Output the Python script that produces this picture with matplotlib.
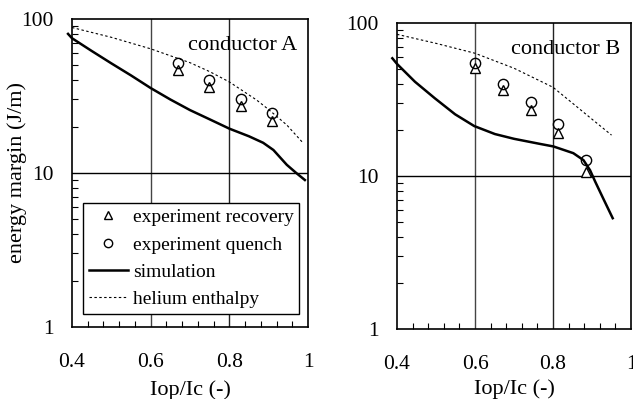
import matplotlib
matplotlib.use("Agg")
import matplotlib.pyplot as plt
from matplotlib.ticker import FixedLocator, FixedFormatter, NullFormatter
from matplotlib.lines import Line2D

plt.rcParams['font.family'] = ['Liberation Serif', 'DejaVu Serif']
plt.rcParams['mathtext.fontset'] = 'stix'

# ---- data: conductor A ----
xA_sim = [0.39, 0.4, 0.45, 0.5, 0.55, 0.6, 0.65, 0.7, 0.75, 0.8, 0.85, 0.886, 0.912, 0.946, 0.97, 0.992]
yA_sim = [80, 75, 62, 51.5, 43, 35.6, 30, 25.6, 22.3, 19.4, 17.3, 15.7, 14.1, 11.3, 10.0, 9.0]
xA_he = [0.4, 0.5, 0.6, 0.7, 0.75, 0.8, 0.869, 0.9, 0.946, 0.988]
yA_he = [88, 76, 64, 52, 45.5, 39, 29.8, 25.8, 20.5, 15.6]
xA_exp = [0.67, 0.748, 0.829, 0.909]
yA_quench = [51.6, 40.2, 30.2, 24.4]
yA_recov = [46.6, 36.3, 27.2, 21.9]

# ---- data: conductor B ----
xB_sim = [0.388, 0.4, 0.446, 0.497, 0.549, 0.598, 0.651, 0.7, 0.767, 0.801, 0.852, 0.878, 0.895, 0.908, 0.929, 0.953]
yB_sim = [58.8, 54, 41.3, 32.2, 25.3, 21.2, 18.8, 17.5, 16.2, 15.6, 14.1, 12.7, 10.9, 9.2, 7.1, 5.3]
xB_he = [0.4, 0.5, 0.6, 0.7, 0.8, 0.85, 0.9, 0.95]
yB_he = [84.3, 73.6, 63.4, 50.6, 38, 29.9, 23.5, 18.5]
xB_exp = [0.6, 0.672, 0.743, 0.813, 0.884]
yB_quench = [55.1, 39.9, 30.3, 21.9, 12.7]
yB_recov = [50.6, 36.5, 27, 19.2, 10.7]

xticks = [0.4, 0.6, 0.8, 1.0]
xticklabels = ["0.4", "0.6", "0.8", "1"]
yticks = [1, 10, 100]
yticklabels = ["1", "10", "100"]

fig = plt.figure(figsize=(6.33, 3.99), dpi=100)
axA = fig.add_axes([0.1137, 0.1805, 0.3729, 0.772])
axB = fig.add_axes([0.6272, 0.1754, 0.3697, 0.767])

FS_TICK = 15.5
FS_LAB = 16
FS_TITLE = 16
FS_LEG = 14

def style(ax, title):
    ax.set_yscale('log')
    ax.set_xlim(0.4, 1.0)
    ax.set_ylim(1, 100)
    ax.xaxis.set_major_locator(FixedLocator(xticks))
    ax.xaxis.set_major_formatter(FixedFormatter(xticklabels))
    ax.yaxis.set_major_locator(FixedLocator(yticks))
    ax.yaxis.set_major_formatter(FixedFormatter(yticklabels))
    xminor = [0.44, 0.48, 0.52, 0.56, 0.64, 0.68, 0.72, 0.76, 0.84, 0.88, 0.92, 0.96]
    ax.xaxis.set_minor_locator(FixedLocator(xminor))
    yminor = [m * d for d in (1, 10) for m in range(2, 10)]
    ax.yaxis.set_minor_locator(FixedLocator(yminor))
    ax.xaxis.set_minor_formatter(NullFormatter())
    ax.yaxis.set_minor_formatter(NullFormatter())
    ax.tick_params(axis='both', which='major', direction='in', length=0,
                   labelsize=FS_TICK, top=False, right=False)
    ax.tick_params(axis='x', which='major', pad=19)
    ax.tick_params(axis='y', which='major', pad=13)
    ax.tick_params(axis='both', which='minor', direction='in', length=4,
                   width=0.8, top=False, right=False)
    for s in ax.spines.values():
        s.set_linewidth(1.2)
    ax.axvline(0.6, color='#444444', lw=1.0, zorder=0.5)
    ax.axvline(0.8, color='#222222', lw=1.0, zorder=0.5)
    ax.axhline(10, color='black', lw=1.0, zorder=0.5)
    ax.set_xlabel("Iop/Ic (-)", fontsize=FS_LAB)
    ax.text(0.955, 0.9, title, transform=ax.transAxes, ha='right',
            va='baseline', fontsize=FS_TITLE)

style(axA, "conductor A")
style(axB, "conductor B")
axA.xaxis.set_label_coords(0.5, -0.172)
axB.xaxis.set_label_coords(0.5, -0.165)

tri = dict(marker='^', ms=6.8, mfc='white', mec='black', mew=1.0, ls='none', zorder=3)
cir = dict(marker='o', ms=7.4, mfc='none', mec='black', mew=1.0, ls='none', zorder=3)
simk = dict(color='black', lw=1.8, clip_on=False, zorder=4)
hek = dict(color='black', lw=0.8, ls=(0, (2.2, 2.2)), zorder=2)

axA.plot(xA_he, yA_he, **hek)
axA.plot(xA_sim, yA_sim, **simk)
axA.plot(xA_exp, yA_recov, **tri)
axA.plot(xA_exp, yA_quench, **cir)

axB.plot(xB_he, yB_he, **hek)
axB.plot(xB_sim, yB_sim, **simk)
axB.plot(xB_exp, yB_recov, **tri)
axB.plot(xB_exp, yB_quench, **cir)

axA.set_ylabel("energy margin (J/m)", fontsize=FS_LAB)
axA.yaxis.set_label_coords(-0.19, 0.5)

handles = [
    Line2D([], [], marker='^', ms=6, mfc='white', mec='black', mew=1.0, ls='none'),
    Line2D([], [], marker='o', ms=6, mfc='none', mec='black', mew=1.0, ls='none'),
    Line2D([], [], color='black', lw=1.8),
    Line2D([], [], color='black', lw=0.8, ls=(0, (2.2, 2.2))),
]
labels = ["experiment recovery", "experiment quench", "simulation", "helium enthalpy"]
leg = axA.legend(handles, labels, loc='lower left', bbox_to_anchor=(0.047, 0.042, 0.915, 0.367),
                 mode='expand', fontsize=FS_LEG, frameon=True, fancybox=False,
                 edgecolor='black', framealpha=1.0, handlelength=2.0,
                 handletextpad=0.25, labelspacing=0.5, borderpad=0.3,
                 borderaxespad=0.0)
leg.get_frame().set_linewidth(1.0)
leg.set_zorder(5)

fig.savefig("out.png", dpi=100)
